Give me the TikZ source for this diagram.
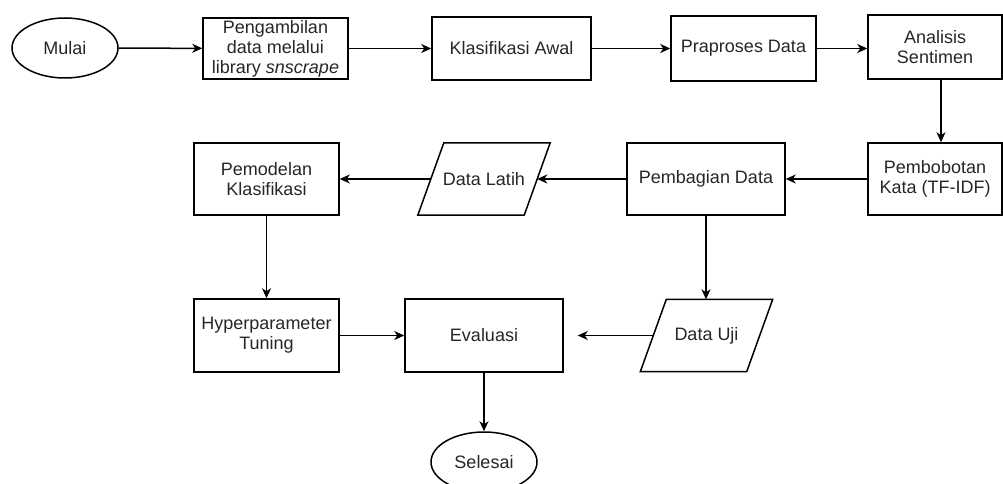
\documentclass[tikz,border=0pt]{standalone}
\usepackage{fontspec}
\setmainfont{Liberation Sans}
\usetikzlibrary{arrows.meta,shapes.geometric,calc}
\begin{document}
\begin{tikzpicture}[x=1pt,y=-1pt,
  every node/.style={font=\fontsize{18}{20}\selectfont, text=black!85, align=center, inner sep=0pt},
  box/.style={draw, line width=1.5pt, rectangle},
  term/.style={draw, line width=1.5pt, ellipse, minimum width=106pt, minimum height=60pt},
  iobox/.style={rectangle, minimum width=106pt, minimum height=72pt},
  arr/.style={line width=1.5pt, -{Stealth[length=10pt,width=9pt,inset=3pt]}},
  para/.style={draw, line width=1.5pt, line join=miter}
]
\useasboundingbox (0,0) rectangle (1003,484);

\node[term] (mulai) at (65,48) {Mulai};
\node[box, minimum width=145pt, minimum height=61pt] (peng) at (275.5,48.5) {Pengambilan\\data melalui\\library \textit{snscrape}};
\node[box, minimum width=159pt, minimum height=63pt] (klas) at (511.5,48.5) {Klasifikasi Awal};
\node[box, minimum width=145pt, minimum height=65pt] (prap) at (743.5,48.5) {Praproses Data};
\node[box, minimum width=134pt, minimum height=64pt] (anal) at (935,47) {Analisis\\Sentimen};

\node[box, minimum width=134pt, minimum height=72pt] (bobot) at (935,179) {Pembobotan\\Kata (TF-IDF)};
\node[box, minimum width=158pt, minimum height=72pt] (bagi) at (706,179) {Pembagian Data};
\node[iobox] (latih) at (484,179) {Data Latih};
\node[box, minimum width=145pt, minimum height=72pt] (model) at (266.5,179) {Pemodelan\\Klasifikasi};

\node[box, minimum width=145pt, minimum height=73pt] (hyper) at (266.5,335.5) {Hyperparameter\\Tuning};
\node[box, minimum width=158pt, minimum height=73pt] (eval) at (484,335.5) {Evaluasi};
\node[iobox] (uji) at (706.5,335.5) {Data Uji};
\node[term] (selesai) at (484,462) {Selesai};

\draw[para] ($(latih.north west)+(13,0)$) -- ($(latih.north east)+(13,0)$) -- ($(latih.south east)+(-13,0)$) -- ($(latih.south west)+(-13,0)$) -- cycle;
\draw[para] ($(uji.north west)+(13,0)$) -- ($(uji.north east)+(13,0)$) -- ($(uji.south east)+(-13,0)$) -- ($(uji.south west)+(-13,0)$) -- cycle;

\draw[arr] (mulai) -- (peng);
\draw[arr] (peng) -- (klas);
\draw[arr] (klas) -- (prap);
\draw[arr] (prap.east) -- (prap.east -| anal.west);
\draw[arr] ([xshift=6pt]anal.south) -- ([xshift=6pt]bobot.north);
\draw[arr] (bobot) -- (bagi);
\draw[arr] (bagi) -- (latih.east);
\draw[arr] (latih.west) -- (model);
\draw[arr] (model) -- (hyper);
\draw[arr] (hyper) -- (eval);
\draw[arr] (bagi.south) -- (bagi.south |- uji.north);
\draw[arr, shorten >=14pt] (uji.west) -- (eval.east);
\draw[arr] (eval) -- (selesai);
\end{tikzpicture}
\end{document}
